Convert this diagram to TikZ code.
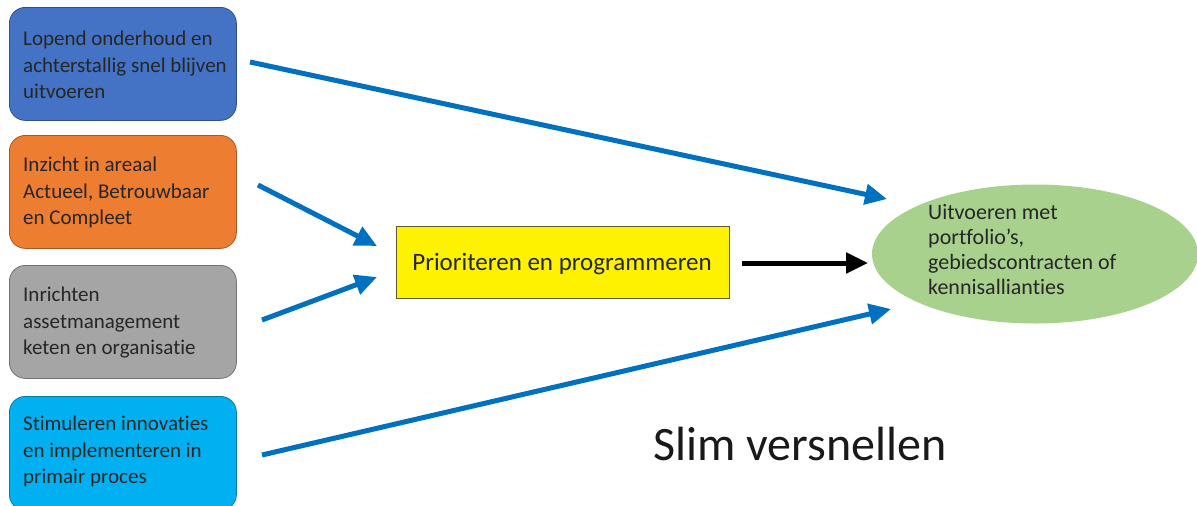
\documentclass[tikz,border=0pt]{standalone}
\usepackage{fontspec}
\setmainfont{Carlito}[Ligatures=NoCommon]
\usetikzlibrary{arrows.meta,shapes.geometric}
\definecolor{cblue}{HTML}{4472C4}
\definecolor{corange}{HTML}{ED7D31}
\definecolor{cgray}{HTML}{A5A5A5}
\definecolor{ccyan}{HTML}{00B0F0}
\definecolor{cgreen}{HTML}{A9D18E}
\definecolor{carrow}{HTML}{0070C0}
\tikzset{
  x=1pt, y=-1pt,
  srcbox/.style={draw=#1!70!black, line width=0.8pt, fill=#1, rounded corners=16pt, minimum width=227pt, minimum height=113pt, anchor=north west, inner sep=0pt},
  srctext/.style={anchor=north west, align=left, font=\fontsize{21pt}{26.5pt}\selectfont, text=black!85, inner sep=0pt},
  barrow/.style={draw=carrow, line width=5pt, -{Triangle[length=22pt,width=20pt]}},
  karrow/.style={draw=black, line width=5pt, -{Triangle[length=22pt,width=20pt]}},
}
\begin{document}
\begin{tikzpicture}
\useasboundingbox (0,0) rectangle (1197,506);
\begin{scope}
\clip (0,0) rectangle (1197,506);
\node[srcbox=cblue] (b1) at (9,7) {};
\node[srcbox=corange] (b2) at (9,135) {};
\node[srcbox=cgray] (b3) at (9,265) {};
\node[srcbox=ccyan, minimum height=114pt] (b4) at (9,396) {};
\end{scope}
\node[srctext] (t1) at (23,31) {Lopend onderhoud en\\achterstallig snel blijven\\uitvoeren};
\node[srctext] (t2) at (23,157) {Inzicht in areaal\\Actueel, Betrouwbaar\\en Compleet};
\node[srctext] (t3) at (23,287) {Inrichten\\assetmanagement\\keten en organisatie};
\node[srctext] (t4) at (23,416) {Stimuleren innovaties\\en implementeren in\\primair proces};

\node[draw=black!45!olive, line width=0.8pt, fill=yellow, minimum width=333pt, minimum height=72pt, anchor=north west, inner sep=0pt] (p) at (396,226) {};
\node[font=\fontsize{25pt}{30pt}\selectfont, text=black!85, anchor=base, inner sep=0pt] (pt) at (562,270) {Prioriteren en programmeren};

\node[ellipse, fill=cgreen, minimum width=326pt, minimum height=139pt, inner sep=0pt] (e) at (1035,254) {};
\node[srctext, font=\fontsize{22pt}{25pt}\selectfont] (et) at (928,204) {Uitvoeren met\\portfolio’s,\\gebiedscontracten of\\kennisallianties};

\coordinate (s1) at (250,62);
\coordinate (e1) at (887,199);
\coordinate (s2) at (258,185);
\coordinate (e2) at (377,246);
\coordinate (s3) at (262,320);
\coordinate (e3) at (377,277);
\coordinate (s4) at (262,455);
\coordinate (e4) at (891,309);
\coordinate (s5) at (742,263);
\coordinate (e5) at (868,263);
\draw[barrow] (s1) -- (e1);
\draw[barrow] (s2) -- (e2);
\draw[barrow] (s3) -- (e3);
\draw[barrow] (s4) -- (e4);
\draw[karrow] (s5) -- (e5);

\node[font=\fontsize{48pt}{56pt}\selectfont, text=black!90, anchor=base, inner sep=0pt] (slim) at (800,460) {Slim versnellen};
\end{tikzpicture}
\end{document}
